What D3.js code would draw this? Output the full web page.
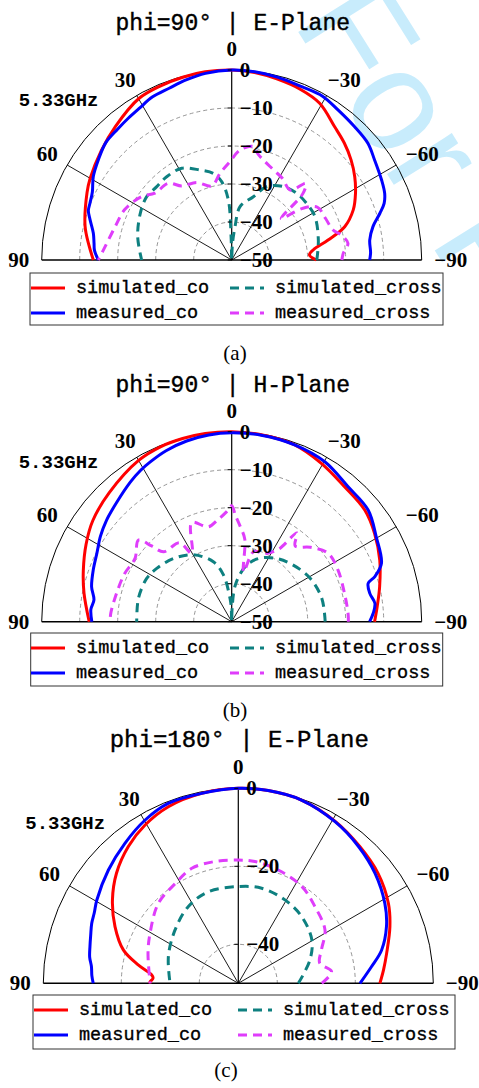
<!DOCTYPE html>
<html><head><meta charset="utf-8">
<script src="https://cdn.jsdelivr.net/npm/d3@7"></script>
<style>body{margin:0;background:#fff}</style>
</head><body>
<svg id="chart" width="479" height="1088"></svg>
<script>
// ---------- DATA: [angle (deg), gain (dB)] ----------
const aSimCo = [[-90,-27.7],[-86.3,-29.5],[-83,-28.4],[-78.3,-24.1],[-73.6,-19],[-67.6,-15.4],[-61.7,-13],[-55.9,-10.9],[-50,-9],[-44,-7.3],[-37.7,-5.7],[-29.3,-2.7],[-22,-1.6],[-14,-0.9],[-7,-0.3],[0,0],[8,0],[15,-0.2],[22,-0.5],[30,-1.0],[41,-3.4],[50,-5.2],[60,-7],[65,-8],[77,-10.4],[84,-12.2],[90,-13.6]];
const aMeasCo = [[-90,-13.7],[-87,-13.4],[-81.8,-13.3],[-76.7,-11.8],[-72.5,-9.1],[-69.6,-7.2],[-66.5,-6.1],[-62,-5.3],[-55,-4.1],[-49.4,-2.8],[-42.7,-2.3],[-35.3,-1.6],[-29,-0.7],[-22,-0.8],[-14,-0.4],[-7,-0.1],[0,0],[8,-0.4],[14,-1.1],[20,-1.9],[26,-2.3],[31,-3.2],[36,-3.8],[41,-4.3],[47,-4.7],[53,-6.1],[59,-7.5],[64,-9.2],[68,-9.8],[71,-10.1],[74,-11.2],[79,-12.9],[83,-13.5],[86,-13.8],[90,-14.9]];
const aSimCross = [[-90,-27.6],[-77,-26.6],[-62.5,-25.3],[-53,-25.3],[-44,-25.5],[-35,-26.4],[-25.5,-28.6],[-18.9,-32.4],[-8.9,-35.8],[-5.7,-41.2],[-2.5,-46],[0,-50],[1.5,-44],[3.2,-34.2],[7.3,-29.2],[12,-26.7],[19.4,-24.9],[28.6,-22.5],[38,-22.2],[45.6,-22.4],[53.3,-22.1],[63,-23],[76,-24.5],[90,-26.3]];
const aMeasCross = [[-90,-21],[-86.6,-20.6],[-81.8,-19.1],[-77,-20.5],[-73.5,-22.2],[-66,-23],[-58.4,-23.5],[-54,-26.8],[-50,-33],[-47,-24.4],[-44,-22],[-40,-26],[-31.8,-24.7],[-24.5,-23.8],[-14,-21.3],[-10.8,-19.6],[-4.3,-21],[1,-24.1],[7.7,-27],[15,-29.8],[24.4,-27.6],[34,-26.5],[39.6,-23.8],[49,-23.2],[54.9,-21],[64.6,-18.9],[74,-18.1],[84,-16.5],[90,-14.9]];

const bSimCo = [[-90,-12.4],[-84,-11.5],[-76.7,-10],[-67.4,-7.8],[-58.3,-5.8],[-50,-4.3],[-39.9,-3.7],[-29.5,-2.1],[-19.6,-0.6],[-9,-0.2],[0,0],[8,0],[15,-0.1],[22,-0.3],[30,-1.0],[43.5,-3.2],[54,-4.8],[62,-6.6],[71,-8.7],[79,-10.4],[90,-12.5]];
const bMeasCo = [[-90,-13.7],[-86.6,-12.7],[-82.7,-12.0],[-78.4,-12.9],[-74.3,-12.7],[-72.5,-10.5],[-68.7,-7.7],[-59.6,-5.9],[-50.7,-3.6],[-40.7,-3.1],[-30.2,-1.3],[-19.6,-0.6],[-9,-0.3],[0,-0.3],[7,-0.5],[14,-1.0],[21,-1.8],[27,-2.8],[31,-3.5],[36,-4.6],[44,-6.4],[51,-7.6],[57,-8.8],[63,-10.2],[69.5,-11.1],[76,-12],[81,-13.3],[85,-12.8],[90,-13.2]];
const bSimCross = [[-90,-25.4],[-75.5,-25.5],[-61,-26.4],[-47.4,-28],[-35.4,-29.6],[-24,-31.7],[-14.8,-34.6],[-6,-40],[-2,-46],[0,-50],[2,-46],[4,-43.9],[10,-37.5],[17,-33.5],[29.9,-29.7],[42.6,-27.4],[54.6,-25.8],[63,-24.9],[76,-24.7],[90,-25]];
const bMeasCross = [[-90,-19.3],[-86,-19.3],[-76,-19.4],[-64,-18.9],[-54.6,-18.9],[-46.6,-21.5],[-40,-24],[-36.3,-21],[-33,-27.2],[-26.2,-30],[-17.4,-30.7],[-13.5,-36.5],[-9,-28],[-5.2,-24.9],[-2,-22],[0,-19.5],[2.6,-21],[8,-23],[13.8,-24.3],[22,-21.9],[30.3,-29.1],[33.5,-25.1],[44.3,-24.3],[46.6,-21],[48.8,-17.4],[56.8,-19.6],[66,-19.1],[76,-18.8],[86,-18.1],[90,-18]];

const cSimCo = [[-90,-13.7],[-84.7,-12.6],[-78.6,-11.2],[-69.5,-8.5],[-62,-6.4],[-51.8,-4.4],[-41.7,-3.1],[-30.9,-1.6],[-19,-0.3],[-8.8,0],[0,0],[10.9,-0.4],[21.6,-1.3],[30.5,-2.9],[38.8,-5],[47.9,-7.9],[56.5,-11.3],[65.3,-15.2],[73.8,-19.3],[79.6,-23.9],[84.5,-27.7],[86.5,-28.1],[89,-27.4],[90,-27.3]];
const cMeasCo = [[-90,-18.8],[-82.9,-15.6],[-77,-12.3],[-69,-9.3],[-61.4,-7.2],[-51.2,-5],[-41.3,-3.3],[-30.9,-1.7],[-19,-0.3],[-8.8,0],[0,0],[10.9,-0.4],[21.3,-0.5],[29.7,-1.8],[39,-3.8],[48.9,-5.8],[59.5,-7.9],[64,-8.9],[67.8,-9.4],[72,-10.2],[76,-10.8],[80,-11.3],[83.5,-12.1],[87,-12.4],[90,-12.8]];
const cSimCross = [[-90,-34.6],[-72,-30.7],[-59.4,-28.1],[-43.5,-26.4],[-29.2,-25.5],[-13.8,-24.9],[0,-25.2],[18,-25.3],[33,-26.5],[50,-28.8],[69,-30.8],[90,-32.5]];
const cMeasCross = [[-90,-28.6],[-82.9,-25.9],[-76,-28.5],[-68,-27],[-58.4,-23.9],[-45,-22.2],[-33.2,-20.3],[-19.4,-19.2],[-7.8,-18.5],[0,-18.4],[10.9,-18.2],[22,-18.2],[32,-19.7],[45,-21],[60.5,-24],[71.6,-25.6],[90,-27.4]];

const seriesNames = ["simulated_co","measured_co","simulated_cross","measured_cross"];
const angleTicks = [0,30,60,90,-30,-60,-90];
const radialTicksAB = [0,-10,-20,-30,-40,-50];
const radialTicksC = [0,-20,-40];
const titles = ["phi=90° | E-Plane","phi=90° | H-Plane","phi=180° | E-Plane"];
const freqLabel = "5.33GHz";
const captions = ["(a)","(b)","(c)"];
const watermark = "For Pe";

// ---------- STYLE / LAYOUT ----------
const colors = ["#ff0000","#0000ff","#0e8080","#df3dfb"];
const dashes = [null,null,"9,6","9,6"];
const MONO = "'Liberation Mono', 'DejaVu Sans Mono', monospace";
const NUM = "'Liberation Serif', 'Times New Roman', serif";
const panels = [
  {series:[aSimCo,aMeasCo,aSimCross,aMeasCross], ticks:radialTicksAB, cx:231.7, cy:260, R:190, titleY:24, titleSize:23,
   leg:{x:30,y:273,w:413,h:52,rows:[288,313],lineX:[31,230],textX:[76,275]}, capX:235, capY:353},
  {series:[bSimCo,bMeasCo,bSimCross,bMeasCross], ticks:radialTicksAB, cx:231.7, cy:621.7, R:190, titleY:386, titleSize:23,
   leg:{x:30.7,y:633,w:412,h:53,rows:[648,673],lineX:[31,230],textX:[76,275]}, capX:235, capY:710},
  {series:[cSimCo,cMeasCo,cSimCross,cMeasCross], ticks:radialTicksC, cx:238.3, cy:983.3, R:195, titleY:740, titleSize:24,
   leg:{x:33,y:995,w:422,h:54,rows:[1010,1035],lineX:[34,238],textX:[79,283]}, capX:226, capY:1070}
];

const svg = d3.select("#chart");

// watermark (faint, behind the charts)
svg.append("text").attr("transform","translate(292,22) rotate(58)")
  .attr("font-family","'Liberation Sans', Arial, sans-serif").attr("font-size",145)
  .attr("fill","#c8ecfc").text(watermark);

panels.forEach((p,i) => {
  const g = svg.append("g").attr("transform",`translate(${p.cx},${p.cy})`);
  const r = d3.scaleLinear().domain([-50,0]).range([0,p.R]);
  const rad = a => -a*Math.PI/180;
  const semi = rr => `M${-rr},0A${rr},${rr} 0 0 1 ${rr},0`;

  p.ticks.filter(t => t>-50 && t<0).forEach(t => {
    g.append("path").attr("d",semi(r(t))).attr("fill","none")
      .attr("stroke","#8a8a8a").attr("stroke-width",0.9).attr("stroke-dasharray","4,3");
  });
  [-60,-30,0,30,60].forEach(a => {
    g.append("line").attr("x1",0).attr("y1",0)
      .attr("x2",Math.sin(rad(a))*p.R).attr("y2",-Math.cos(rad(a))*p.R)
      .attr("stroke","#000").attr("stroke-width",a===0?1.2:0.9);
  });
  g.append("path").attr("d",semi(p.R)).attr("fill","none").attr("stroke","#000").attr("stroke-width",1);
  g.append("line").attr("x1",-p.R).attr("x2",p.R).attr("y1",0).attr("y2",0).attr("stroke","#000").attr("stroke-width",1.6);

  const line = d3.lineRadial().angle(d => rad(d[0])).radius(d => r(Math.max(-50,d[1])))
    .curve(d3.curveCatmullRom.alpha(0.5));
  [0,1,2,3].forEach(k => {
    g.append("path").attr("d",line(p.series[k])).attr("fill","none")
      .attr("stroke",colors[k]).attr("stroke-width",3)
      .attr("stroke-dasharray",dashes[k]).attr("stroke-linejoin","round");
  });

  p.ticks.forEach(t => {
    g.append("line").attr("x1",-4).attr("x2",0).attr("y1",-r(t)).attr("y2",-r(t)).attr("stroke","#000");
    g.append("text").attr("x",8).attr("y",-r(t)).attr("dominant-baseline","central")
      .attr("font-family",NUM).attr("font-weight","bold").attr("font-size",21).attr("fill","#000")
      .text(t===0?"0":"\u2212"+Math.abs(t));
  });

  const rl = p.R + 23;
  angleTicks.forEach(a => {
    let x = Math.sin(rad(a))*rl, y = -Math.cos(rad(a))*rl;
    if (a<0) x += 6;
    if (Math.abs(a)===30) y += 4;
    if (a===0) y += 2;
    g.append("text").attr("x",x).attr("y",y).attr("text-anchor","middle").attr("dominant-baseline","central")
      .attr("font-family",NUM).attr("font-weight","bold").attr("font-size",21).attr("fill","#000")
      .text(a<0 ? "\u2212"+Math.abs(a) : String(a));
  });

  svg.append("text").attr("x",p.cx-213).attr("y",p.cy-159).attr("dominant-baseline","central")
    .attr("font-family",MONO).attr("font-weight","bold").attr("font-size",19).text(freqLabel);

  svg.append("text").attr("x",p.cx+1).attr("y",p.titleY).attr("text-anchor","middle").attr("dominant-baseline","central")
    .attr("font-family",MONO).attr("font-size",p.titleSize).attr("stroke","#000").attr("stroke-width",0.4).text(titles[i]);

  const L = p.leg;
  svg.append("rect").attr("x",L.x).attr("y",L.y).attr("width",L.w).attr("height",L.h)
    .attr("fill","#fff").attr("stroke","#333").attr("stroke-width",1);
  [0,1,2,3].forEach(k => {
    const col = k<2?0:1, row = k%2;
    const x0 = L.lineX[col], y0 = L.rows[row];
    svg.append("line").attr("x1",x0).attr("x2",x0+34).attr("y1",y0).attr("y2",y0)
      .attr("stroke",colors[k]).attr("stroke-width",3).attr("stroke-dasharray",dashes[k]);
    svg.append("text").attr("x",L.textX[col]).attr("y",y0).attr("dominant-baseline","central")
      .attr("font-family",MONO).attr("font-size",18.5).attr("stroke","#000").attr("stroke-width",0.35).text(seriesNames[k]);
  });

  svg.append("text").attr("x",p.capX).attr("y",p.capY).attr("text-anchor","middle").attr("dominant-baseline","central")
    .attr("font-family","'Liberation Serif', 'Times New Roman', serif").attr("font-size",21).text(captions[i]);
});
</script>
</body></html>
